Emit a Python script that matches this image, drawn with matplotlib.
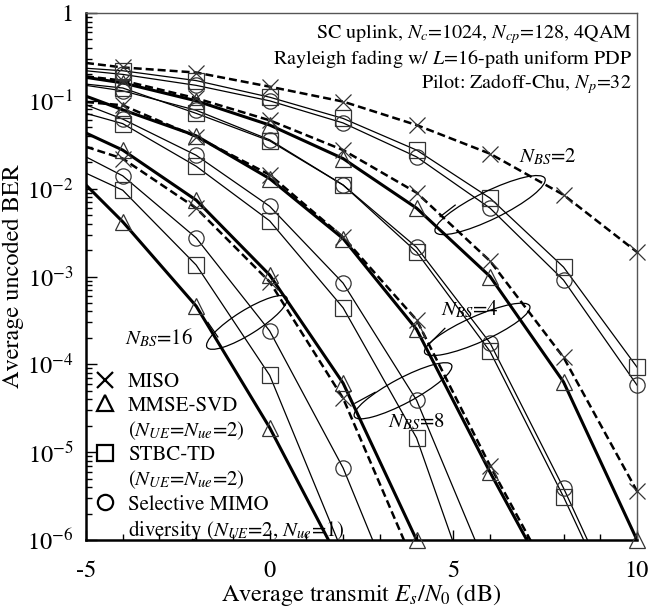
import numpy as np
import matplotlib
matplotlib.use('Agg')
import matplotlib.pyplot as plt
from matplotlib.patches import Ellipse
from matplotlib.lines import Line2D
from matplotlib.transforms import ScaledTranslation

plt.rcParams['font.family'] = 'STIXGeneral'
plt.rcParams['mathtext.fontset'] = 'stix'
plt.rcParams['axes.unicode_minus'] = False

nan = np.nan

# Es/N0 (dB): lines start at -5 dB, markers every 2 dB from -4 dB
snr = [-5, -4, -2, 0, 2, 4, 6, 8, 10]

# N_BS = 2
miso_2 = [0.27, 0.24, 0.21, 0.145, 0.098, 0.053, 0.025, 0.0085, 0.0019]
mmse_2 = [0.185, 0.16, 0.10, 0.053, 0.022, 0.006, 1.0e-3, 6.3e-5, 1.0e-6]
stbc_2 = [0.235, 0.22, 0.17, 0.11, 0.063, 0.0275, 0.0078, 1.28e-3, 9.3e-5]
sel_2 = [0.22, 0.20, 0.15, 0.10, 0.056, 0.023, 0.006, 9.1e-4, 5.8e-5]
# N_BS = 4
miso_4 = [0.19, 0.17, 0.107, 0.06, 0.0275, 0.009, 1.5e-3, 1.2e-4, 3.6e-6]
mmse_4 = [0.113, 0.079, 0.04, 0.013, 2.7e-3, 2.5e-4, 5.9e-6, 1.7e-7, nan]
stbc_4 = [0.155, 0.14, 0.072, 0.035, 0.011, 1.9e-3, 1.4e-4, 3.1e-6, 5e-8]
sel_4 = [0.15, 0.13, 0.078, 0.036, 0.011, 2.15e-3, 1.75e-4, 3.9e-6, 6e-8]
# N_BS = 8
miso_8 = [0.097, 0.089, 0.039, 0.0144, 2.8e-3, 3.2e-4, 7e-6, 2e-7, nan]
mmse_8 = [0.043, 0.0275, 0.0074, 1.04e-3, 6.1e-5, 1.0e-6, nan, nan, nan]
stbc_8 = [0.072, 0.055, 0.018, 4.3e-3, 4.4e-4, 1.45e-5, 6e-8, nan, nan]
sel_8 = [0.09, 0.062, 0.024, 6.3e-3, 8.4e-4, 3.9e-5, 3.9e-7, nan, nan]
# N_BS = 16
miso_16 = [0.03, 0.022, 0.006, 8.7e-4, 4.1e-5, 4.6e-7, nan, nan, nan]
mmse_16 = [0.011, 0.0042, 4.6e-4, 1.9e-5, 4.8e-7, nan, nan, nan, nan]
stbc_16 = [0.015, 0.0096, 1.35e-3, 7.5e-5, 7e-7, nan, nan, nan, nan]
sel_16 = [0.023, 0.014, 2.75e-3, 2.4e-4, 6.6e-6, 6e-8, nan, nan, nan]

groups = {
    'miso': [miso_2, miso_4, miso_8, miso_16],
    'mmse': [mmse_2, mmse_4, mmse_8, mmse_16],
    'stbc': [stbc_2, stbc_4, stbc_8, stbc_16],
    'sel': [sel_2, sel_4, sel_8, sel_16],
}
styles = {
    'miso': dict(marker='x', ls=(0, (3.2, 1.6)), lw=1.8),
    'mmse': dict(marker='^', ls='-', lw=2.2),
    'stbc': dict(marker='s', ls='-', lw=0.9),
    'sel': dict(marker='o', ls='-', lw=0.9),
}

bs_labels = ['2', '4', '8', '16']
bs_text_pos = [(7.58, 0.023), (5.45, 4.2e-4), (4.0, 2.2e-5), (-3.01, 2.0e-4)]
# ellipse: centre (dB, BER), width/height (inch), angle (deg)
bs_ellipses = [((6.0, 6.5e-3), 1.22, 0.28, 26),
               ((5.65, 2.5e-4), 1.15, 0.26, 24),
               ((3.63, 5e-5), 1.10, 0.25, 28),
               ((-0.62, 3e-4), 0.94, 0.24, 32)]
# short hand-drawn strokes on the ellipses
bs_strokes = [((4.64, 4.8e-3), (5.05, 6.5e-3)),
              ((4.31, 1.66e-4), (4.77, 2.57e-4)),
              ((2.32, 3.6e-5), (2.87, 4.8e-5)),
              ((-1.68, 3.0e-4), (-1.41, 2.05e-4))]

fig = plt.figure(figsize=(6.65, 6.10), dpi=100)
ax = fig.add_axes([86/665, 70/610, 551/665, 527/610])

x = np.array(snr, dtype=float)
for key in ['stbc', 'sel', 'miso', 'mmse']:
    st = styles[key]
    for ys in groups[key]:
        y = np.array(ys, dtype=float)
        ax.plot(x, y, color='k', ls=st['ls'], lw=st['lw'], zorder=2)
        m = (x >= -4) & (y >= 0.99e-6)
        ax.plot(x[m], y[m], ls='none', marker=st['marker'], ms=11,
                mfc='none', mec='#333333', mew=0.9, clip_on=False, zorder=3)

ax.set_yscale('log')
ax.set_xlim(-5, 10)
ax.set_ylim(1e-6, 1)

ax.set_xticks([-5, 0, 5, 10])
ax.set_xticklabels(['-5', '0', '5', '10'])
ax.set_xticks(np.arange(-5, 11, 1), minor=True)
yt = [1e-6, 1e-5, 1e-4, 1e-3, 1e-2, 1e-1, 1]
ax.set_yticks(yt)
ax.set_yticklabels([r'$10^{-6}$', r'$10^{-5}$', r'$10^{-4}$', r'$10^{-3}$',
                    r'$10^{-2}$', r'$10^{-1}$', '1'])
ax.tick_params(which='both', direction='in', top=False, right=False,
               labelsize=17.5, width=1.0)
ax.tick_params(axis='y', which='major', length=8, pad=9)
ax.tick_params(axis='y', which='minor', length=4.5)
ax.tick_params(axis='x', which='major', length=7, pad=15)
ax.tick_params(axis='x', which='minor', length=4)

for s in ['left', 'bottom']:
    ax.spines[s].set_linewidth(1.8)
for s in ['top', 'right']:
    ax.spines[s].set_linewidth(1.0)
    ax.spines[s].set_color('#555555')

ax.set_xlabel(r'Average transmit $E_s/N_0$ (dB)', fontsize=17.5, labelpad=0)
ax.set_ylabel('Average uncoded BER', fontsize=17.5, labelpad=2)

ax.text(0.991, 0.982,
        'SC uplink, $N_c$=1024, $N_{cp}$=128, 4QAM\n'
        'Rayleigh fading w/ $L$=16-path uniform PDP\n'
        'Pilot: Zadoff-Chu, $N_p$=32',
        transform=ax.transAxes, ha='right', va='top', fontsize=14.5,
        linespacing=1.12)

for lab, (tx, ty) in zip(bs_labels, bs_text_pos):
    ax.text(tx, ty, r'$N_{BS}$=' + lab, fontsize=15, ha='center', va='center')

for (cxy, w, h, ang) in bs_ellipses:
    tr = fig.dpi_scale_trans + ScaledTranslation(cxy[0], cxy[1], ax.transData)
    ax.add_patch(Ellipse((0, 0), w, h, angle=ang, fill=False, lw=0.9,
                         ec='k', transform=tr, clip_on=False, zorder=4))
for (p0, p1) in bs_strokes:
    ax.plot([p0[0], p1[0]], [p0[1], p1[1]], color='k', lw=0.9, zorder=4)

# legend
mk = dict(ls='none', ms=11, mfc='none', mec='k', mew=1.6)
blank = Line2D([], [], ls='none')
handles = [Line2D([], [], marker='x', **mk), Line2D([], [], marker='^', **mk),
           blank, Line2D([], [], marker='s', **mk), blank,
           Line2D([], [], marker='o', **mk), blank]
labels = ['MISO', 'MMSE-SVD', r'($N_{UE}$=$N_{ue}$=2)', 'STBC-TD',
          r'($N_{UE}$=$N_{ue}$=2)', 'Selective MIMO',
          r'diversity ($N_{UE}$=2, $N_{ue}$=1)']
ax.legend(handles, labels, loc='lower left', bbox_to_anchor=(0.0, -0.022),
          frameon=False, fontsize=15, handlelength=1.0, handletextpad=0.6,
          labelspacing=0.17, borderaxespad=0.2, borderpad=0.2)

plt.savefig('out.png', dpi=100)
plt.close(fig)
